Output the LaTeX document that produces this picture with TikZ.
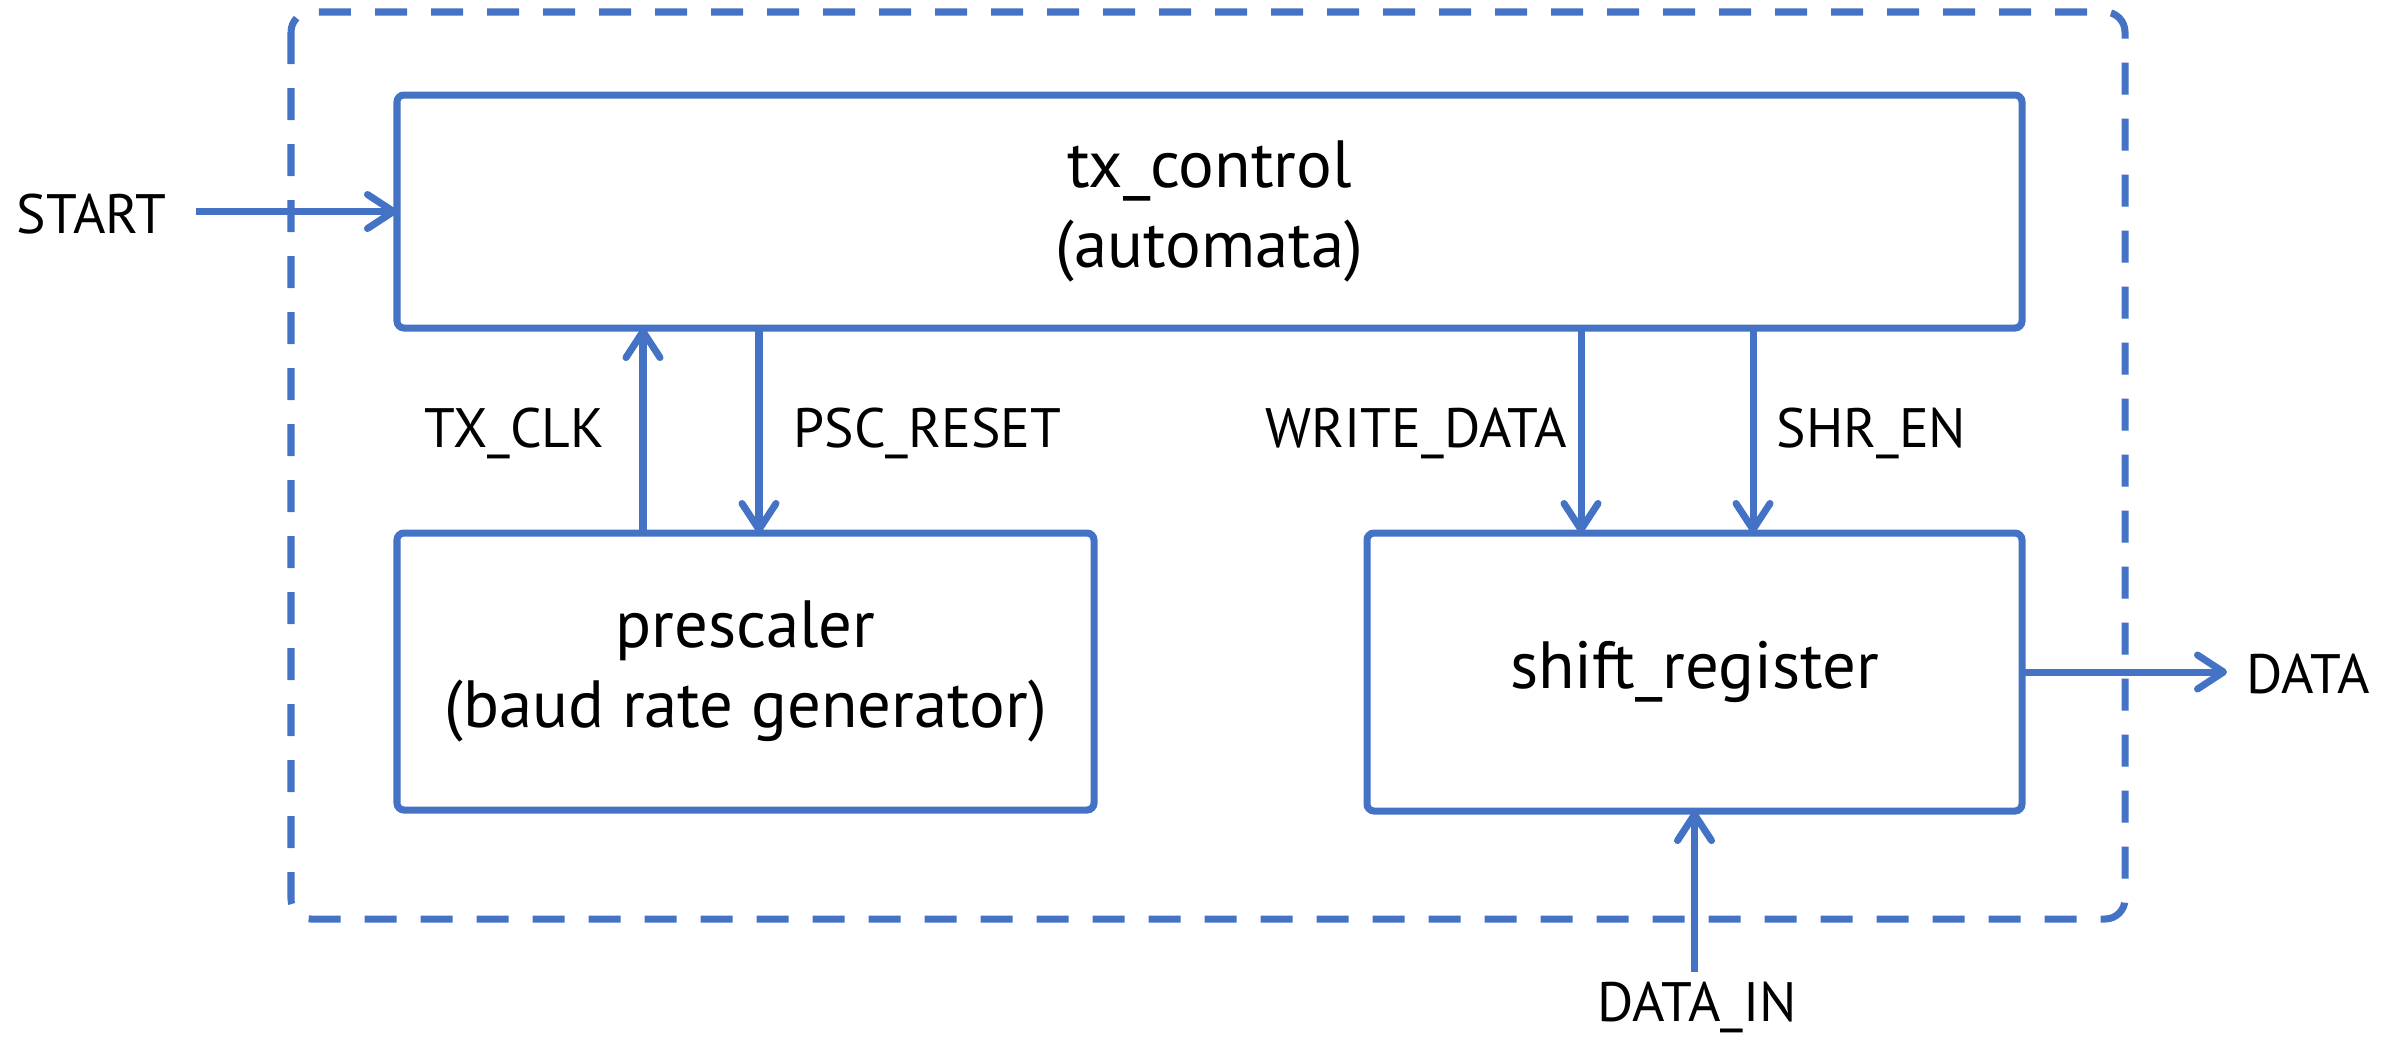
\documentclass[tikz,border=0pt]{standalone}
\usepackage{fontspec}
\setmainfont{PT Sans}
\usetikzlibrary{arrows.meta}
\definecolor{blk}{HTML}{4472C4}
\tikzset{
  box/.style={draw=blk, line width=2pt, rounded corners=0.07cm, outer sep=0pt,
    inner sep=0pt, align=center, font=\fontsize{19}{23}\selectfont},
  arr/.style={draw=blk, line width=2pt,
    -{Straight Barb[length=2.6mm, width=3.4mm, round]}},
  lbl/.style={inner sep=0pt, font=\fontsize{15.8}{18}\selectfont},
  frame/.style={draw=blk, line width=2pt, dash pattern=on 0.32cm off 0.24cm,
    rounded corners=0.2cm}
}
\begin{document}
\begin{tikzpicture}
\useasboundingbox (0,0) rectangle (24.02,-10.38);
\draw[frame] (2.91,-0.12) rectangle (21.25,-9.19);
\node[box, minimum width=16.25cm, minimum height=2.33cm] (txc) at (12.095,-2.115) {tx\_control\\(automata)};
\node[box, minimum width=6.97cm, minimum height=2.77cm] (presc) at (7.455,-6.715) {prescaler\\(baud rate generator)};
\node[box, minimum width=6.55cm, minimum height=2.78cm] (shreg) at (16.945,-6.72) {shift\_register};
\coordinate (startin) at (1.96,-2.115);
\coordinate (dataout) at (22.27,-6.72);
\coordinate (datain) at (16.945,-9.72);
\draw[arr] (startin) -- (txc.west);
\draw[arr] (6.43,0 |- presc.north) -- (6.43,0 |- txc.south);
\draw[arr] (7.59,0 |- txc.south) -- (7.59,0 |- presc.north);
\draw[arr] (15.81,0 |- txc.south) -- (15.81,0 |- shreg.north);
\draw[arr] (17.53,0 |- txc.south) -- (17.53,0 |- shreg.north);
\draw[arr] (shreg.east) -- (dataout);
\draw[arr] (datain) -- (shreg.south);
\node[lbl, anchor=base east] (lstart) at (1.67,-2.33) {START};
\node[lbl, anchor=base east] (ltxclk) at (6.05,-4.47) {TX\_CLK};
\node[lbl, anchor=base west] (lpsc) at (7.93,-4.47) {PSC\_RESET};
\node[lbl, anchor=base east] (lwd) at (15.68,-4.47) {WRITE\_DATA};
\node[lbl, anchor=base west] (lshr) at (17.76,-4.47) {SHR\_EN};
\node[lbl, anchor=base west] (ldata) at (22.46,-6.93) {DATA};
\node[lbl, anchor=base] (ldatain) at (16.97,-10.21) {DATA\_IN};
\end{tikzpicture}
\end{document}
